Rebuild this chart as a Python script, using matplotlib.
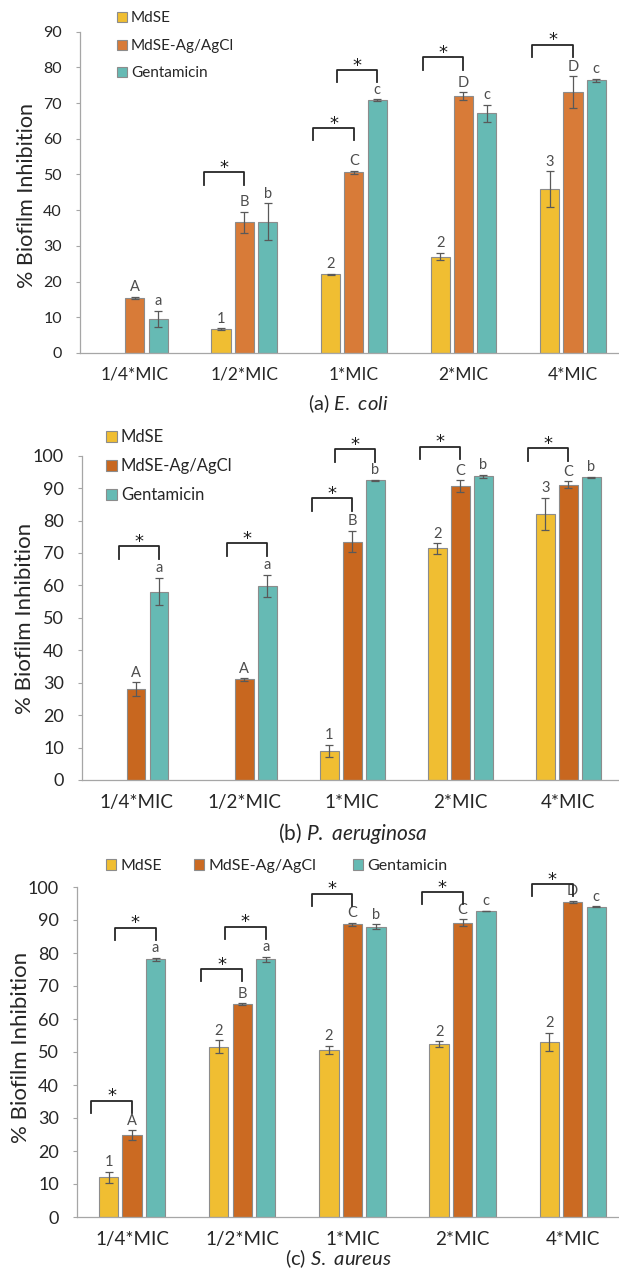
import numpy as np
import matplotlib
matplotlib.use('Agg')
import matplotlib.pyplot as plt
from matplotlib.patches import Patch

plt.rcParams['font.family'] = ['Lato', 'DejaVu Sans']
plt.rcParams['mathtext.fontset'] = 'custom'
plt.rcParams['mathtext.rm'] = 'Lato'
plt.rcParams['mathtext.it'] = 'Lato:italic'

W, H = 619, 1273

doses = ['1/4*MIC', '1/2*MIC', '1*MIC', '2*MIC', '4*MIC']
series = ['MdSE', 'MdSE-Ag/AgCl', 'Gentamicin']
nan = np.nan

# (a) E. coli
ecoli_mdse = [nan, 6.7, 22.0, 27.0, 45.9]
ecoli_mdse_err = [0, 0.2, 0.2, 1.0, 5.0]
ecoli_ag = [15.4, 36.6, 50.6, 71.9, 73.1]
ecoli_ag_err = [0.3, 3.0, 0.4, 1.1, 4.4]
ecoli_gen = [9.5, 36.8, 70.8, 67.2, 76.4]
ecoli_gen_err = [2.3, 5.1, 0.3, 2.4, 0.4]
ecoli_lbl = [['', '1', '2', '2', '3'],
             ['A', 'B', 'C', 'D', 'D'],
             ['a', 'b', 'c', 'c', 'c']]
# significance brackets: (dose, left series, right series, height)
ecoli_sig = [(1, 0, 1, 50.6), (2, 0, 1, 63.1), (2, 1, 2, 79.3),
             (3, 0, 1, 82.8), (4, 0, 1, 86.4)]

# (b) P. aeruginosa
pa_mdse = [nan, nan, 9.0, 71.4, 82.0]
pa_mdse_err = [0, 0, 1.8, 1.6, 5.0]
pa_ag = [28.0, 31.0, 73.5, 90.6, 91.0]
pa_ag_err = [2.2, 0.4, 3.3, 1.8, 1.1]
pa_gen = [58.1, 59.8, 92.4, 93.7, 93.3]
pa_gen_err = [4.2, 3.5, 0.2, 0.5, 0.2]
pa_lbl = [['', '', '1', '2', '3'],
          ['A', 'A', 'B', 'C', 'C'],
          ['a', 'a', 'b', 'b', 'b']]
pa_sig = [(0, 1, 2, 72.1), (1, 1, 2, 73.0), (2, 0, 1, 86.9),
          (2, 1, 2, 102.0), (3, 0, 1, 102.8), (4, 0, 1, 102.3)]

# (c) S. aureus
sa_mdse = [12.0, 51.6, 50.7, 52.3, 53.1]
sa_mdse_err = [1.7, 2.0, 1.2, 0.9, 2.8]
sa_ag = [24.8, 64.5, 88.7, 89.2, 95.5]
sa_ag_err = [1.5, 0.3, 0.4, 1.0, 0.3]
sa_gen = [78.1, 78.1, 88.0, 92.7, 94.0]
sa_gen_err = [0.5, 0.8, 0.7, 0.1, 0.1]
sa_lbl = [['1', '2', '2', '2', '2'],
          ['A', 'B', 'C', 'C', 'D'],
          ['a', 'a', 'b', 'c', 'c']]
sa_sig = [(0, 0, 1, 35.3), (0, 1, 2, 87.7), (1, 0, 1, 75.2),
          (1, 1, 2, 88.0), (2, 0, 1, 98.0), (3, 0, 1, 98.5),
          (4, 0, 1, 101.0)]

YELLOW = '#F0BE32'
TEAL = '#66BAB4'
EDGE = '#8C8C8C'
ERRC = '#595959'
offs = [-0.213, 0.0, 0.213]
bw = 0.175


def px_axes(fig, left, top, bottom, right=W):
    return fig.add_axes([left / W, 1 - bottom / H, (right - left) / W, (bottom - top) / H])


def panel(ax, vals, errs, lbls, sig, colors, ymax, xmax, yfs, xfs):
    x = np.arange(len(doses))
    for k in range(3):
        v = np.array(vals[k], dtype=float)
        e = np.array(errs[k], dtype=float)
        ok = np.isfinite(v)
        ax.bar(x[ok] + offs[k], v[ok], bw, color=colors[k], edgecolor=EDGE, linewidth=0.8, zorder=2)
        ax.errorbar(x[ok] + offs[k], v[ok], yerr=e[ok], fmt='none', ecolor=ERRC,
                    elinewidth=0.9, capsize=3, capthick=0.9, zorder=3)
        for i in np.where(ok)[0]:
            ax.annotate(lbls[k][i], (x[i] + offs[k], v[i] + e[i]), xytext=(0, 4),
                        textcoords='offset points', ha='center', va='baseline',
                        fontsize=10.5, color='#4D4D4D', annotation_clip=False)
    leg = 0.038 * ymax
    for g, l, r, y in sig:
        xr = g + offs[r]
        xl = xr - 0.37
        ax.plot([xl, xl, xr, xr], [y - leg, y, y, y - leg], color='#262626', lw=1.3,
                clip_on=False, zorder=4)
        ax.annotate('*', ((xl + xr) / 2, y), xytext=(0, 3), textcoords='offset points',
                    ha='center', va='center', fontsize=13, color='#1A1A1A',
                    family='DejaVu Sans', annotation_clip=False)
    ax.set_xlim(-0.5, xmax)
    ax.set_ylim(0, ymax)
    ax.set_yticks(np.arange(0, ymax + 1, 10))
    ax.set_xticks(x)
    ax.set_xticklabels(doses)
    for s in ['top', 'right']:
        ax.spines[s].set_visible(False)
    for s in ['left', 'bottom']:
        ax.spines[s].set_color('#A6A6A6')
        ax.spines[s].set_linewidth(0.9)
    ax.tick_params(axis='y', direction='out', length=3, color='#A6A6A6',
                   labelsize=yfs, labelcolor='#262626', pad=10)
    ax.tick_params(axis='x', length=0, labelsize=xfs, labelcolor='#262626', pad=10)


def legend_entry(fig, label, color, x, y, fs=10):
    h = Patch(facecolor=color, edgecolor=EDGE, linewidth=0.8)
    fig.legend([h], [label], loc='center left', bbox_to_anchor=(x / W, 1 - y / H),
               frameon=False, fontsize=fs, handlelength=0.65, handleheight=0.65,
               handletextpad=0.25, borderpad=0, borderaxespad=0, labelcolor='#262626')


fig = plt.figure(figsize=(W / 100, H / 100), dpi=100)

# panel (a)
ax_a = px_axes(fig, 80, 31.7, 353)
panel(ax_a, [ecoli_mdse, ecoli_ag, ecoli_gen], [ecoli_mdse_err, ecoli_ag_err, ecoli_gen_err],
      ecoli_lbl, ecoli_sig, [YELLOW, '#D87B38', TEAL], 90, 4.42, 11.5, 12.5)
for lab, col, yy in zip(series, [YELLOW, '#D87B38', TEAL], [18, 46, 73]):
    legend_entry(fig, lab, col, 117, yy, fs=11)
fig.text(27 / W, 1 - 195 / H, '% Biofilm Inhibition', rotation=90, ha='center', va='center',
         fontsize=15.5, color='#262626')
fig.text(348 / W, 1 - 404 / H, r'(a) $\mathit{E.\ coli}$', ha='center', va='center',
         fontsize=14.5, color='#262626')

# panel (b)
ax_b = px_axes(fig, 82, 455.7, 780)
panel(ax_b, [pa_mdse, pa_ag, pa_gen], [pa_mdse_err, pa_ag_err, pa_gen_err],
      pa_lbl, pa_sig, [YELLOW, '#C8671F', TEAL], 100, 4.47, 13, 13.5)
for lab, col, yy in zip(series, [YELLOW, '#C8671F', TEAL], [437, 466, 495]):
    legend_entry(fig, lab, col, 106, yy, fs=12)
fig.text(25 / W, 1 - 618 / H, '% Biofilm Inhibition', rotation=90, ha='center', va='center',
         fontsize=16, color='#262626')
fig.text(353 / W, 1 - 833 / H, r'(b) $\mathit{P.\ aeruginosa}$', ha='center', va='center',
         fontsize=15, color='#262626')

# panel (c)
ax_c = px_axes(fig, 77, 887, 1217)
panel(ax_c, [sa_mdse, sa_ag, sa_gen], [sa_mdse_err, sa_ag_err, sa_gen_err],
      sa_lbl, sa_sig, [YELLOW, '#CB6A22', TEAL], 100, 4.42, 13, 13.5)
for lab, col, xx in zip(series, [YELLOW, '#CB6A22', TEAL], [106, 194, 353]):
    legend_entry(fig, lab, col, xx, 866, fs=11.5)
fig.text(21 / W, 1 - 1047 / H, '% Biofilm Inhibition', rotation=90, ha='center', va='center',
         fontsize=16, color='#262626')
fig.text(338 / W, 1 - 1259 / H, r'(c) $\mathit{S.\ aureus}$', ha='center', va='center',
         fontsize=14.5, color='#262626')

fig.savefig('out.png', dpi=100)
